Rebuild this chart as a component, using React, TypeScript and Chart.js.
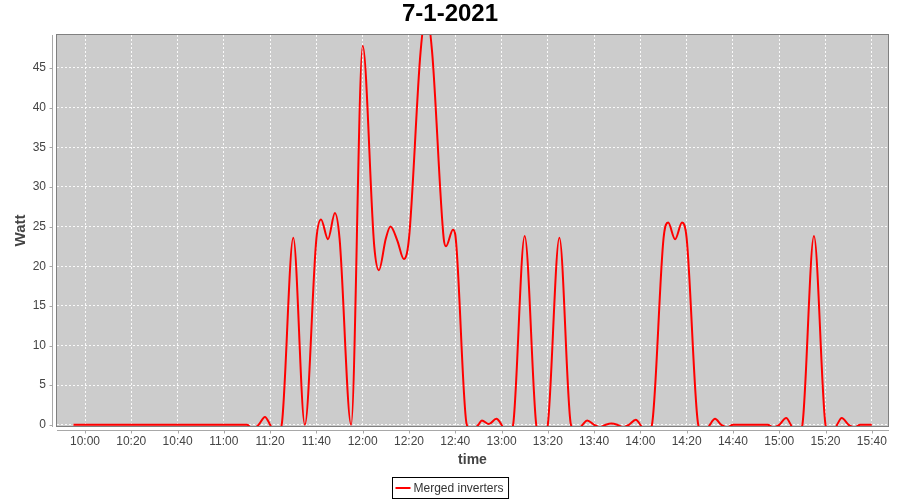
import React, { useEffect, useRef } from "react";
import { Chart, registerables } from "chart.js";

Chart.register(...registerables);

const TITLE = "7-1-2021";
const SERIES_LABEL = "Merged inverters";
const X_TITLE = "time";
const Y_TITLE = "Watt";

const xTickLabels = [
  "10:00", "10:20", "10:40", "11:00", "11:20", "11:40", "12:00", "12:20", "12:40",
  "13:00", "13:20", "13:40", "14:00", "14:20", "14:40", "15:00", "15:20", "15:40",
];
const yTickValues = [0, 5, 10, 15, 20, 25, 30, 35, 40, 45];

const times = [
  "9:55", "10:00", "10:05", "10:10", "10:15", "10:20", "10:25", "10:30", "10:35", "10:40",
  "10:45", "10:50", "10:55", "11:00", "11:05", "11:10", "11:12:30", "11:15", "11:17:45", "11:20",
  "11:22:30", "11:25", "11:30", "11:35", "11:40", "11:42", "11:45", "11:48", "11:50", "11:55",
  "12:00", "12:05", "12:07", "12:10", "12:12", "12:15", "12:17:45", "12:20", "12:25", "12:27:30",
  "12:30", "12:35", "12:36", "12:39", "12:40", "12:45", "12:47:30", "12:50", "12:51:30", "12:54:30",
  "12:57:45", "13:00", "13:02:30", "13:05", "13:10", "13:15", "13:17:30", "13:20", "13:25", "13:30",
  "13:32:30", "13:35", "13:37", "13:40", "13:42:30", "13:45", "13:47:30", "13:50", "13:52:30", "13:55",
  "13:58", "14:00", "14:02:30", "14:05", "14:10", "14:12", "14:15", "14:18", "14:20", "14:25",
  "14:27:30", "14:30", "14:32:15", "14:35", "14:37:30", "14:40", "14:45", "14:50", "14:55", "14:57:30",
  "15:00", "15:03", "15:05", "15:07:30", "15:10", "15:15", "15:20", "15:22:30", "15:25", "15:27",
  "15:30", "15:32:30", "15:35", "15:40",
];

const watts = [
  0, 0, 0, 0, 0, 0, 0, 0, 0, 0,
  0, 0, 0, 0, 0, 0, -0.5, 0, 1.0, 0,
  -1.5, 0, 23.6, 0, 23.5, 25.9, 23.4, 26.7, 23.5, 0,
  47.8, 22.5, 19.5, 23.5, 25.0, 23.2, 20.9, 23.5, 47, 52,
  47, 23.5, 22.5, 24.6, 24.0, 0, -0.6, 0, 0.55, 0.1,
  0.75, 0, -1.5, 0, 23.8, 0, -2, 0, 23.6, 0,
  -0.8, 0, 0.55, 0, -0.3, 0, 0.15, 0, -0.3, 0,
  0.65, 0, -1.2, 0, 23.5, 25.5, 23.4, 25.5, 23.5, 0,
  -1.2, 0, 0.75, 0, -0.3, 0, 0, 0, 0, -0.3,
  0, 0.85, 0, -1.5, 0, 23.8, 0, -1.5, 0, 0.85,
  0, -0.3, 0, 0,
];

const FONT = "'Liberation Sans', Arial, sans-serif";

const toMinutes = (s: string) => {
  const [h, m, sec] = s.split(":").map(Number);
  return h * 60 + m + (sec || 0) / 60;
};

const xTickValues = xTickLabels.map(toMinutes);

const decorPlugin = {
  id: "decor",
  beforeDraw(chart: any) {
    const { ctx, chartArea } = chart;
    const { left, top, right, bottom } = chartArea;
    ctx.save();
    ctx.fillStyle = "#ffffff";
    ctx.fillRect(0, 0, chart.width, chart.height);
    ctx.fillStyle = "#cccccc";
    ctx.fillRect(left, top, right - left, bottom - top);
    ctx.restore();
  },
  afterDraw(chart: any) {
    const { ctx, chartArea, scales } = chart;
    const L = Math.round(chartArea.left);
    const T = Math.round(chartArea.top);
    const R = Math.round(chartArea.right);
    const B = Math.round(chartArea.bottom);
    ctx.save();
    // plot outline
    ctx.strokeStyle = "#808080";
    ctx.lineWidth = 1;
    ctx.strokeRect(L - 0.5, T - 0.5, R - L + 1, B - T + 1);
    // offset axis lines
    ctx.strokeStyle = "#a8a8a8";
    ctx.beginPath();
    ctx.moveTo(L - 4.5, T);
    ctx.lineTo(L - 4.5, B + 1);
    ctx.moveTo(L, B + 4.5);
    ctx.lineTo(R + 1, B + 4.5);
    for (const t of scales.y.ticks) {
      const py = Math.round(scales.y.getPixelForValue(t.value)) + 0.5;
      ctx.moveTo(L - 4.5, py);
      ctx.lineTo(L - 7.5, py);
    }
    for (const t of scales.x.ticks) {
      const px = Math.round(scales.x.getPixelForValue(t.value)) + 0.5;
      ctx.moveTo(px, B + 4.5);
      ctx.lineTo(px, B + 7.5);
    }
    ctx.stroke();
    // legend
    const label = chart.data.datasets[0].label;
    ctx.font = `12px ${FONT}`;
    const tw = ctx.measureText(label).width;
    const boxW = tw + 26;
    const boxH = 21;
    const cx = chart.width / 2;
    const bx = Math.round(cx - boxW / 2) + 0.5;
    const by = 477.5;
    ctx.strokeStyle = "#000000";
    ctx.lineWidth = 1;
    ctx.strokeRect(bx, by, boxW, boxH);
    ctx.strokeStyle = "#ff0000";
    ctx.lineWidth = 2;
    ctx.beginPath();
    ctx.moveTo(bx + 3, by + 10.5);
    ctx.lineTo(bx + 18, by + 10.5);
    ctx.stroke();
    ctx.fillStyle = "#333333";
    ctx.textBaseline = "middle";
    ctx.textAlign = "left";
    ctx.fillText(label, bx + 21, by + 11);
    ctx.restore();
  },
};

export default function App() {
  const canvasRef = useRef<HTMLCanvasElement | null>(null);

  useEffect(() => {
    if (!canvasRef.current) return;
    Chart.defaults.font.family = FONT;
    const data = times.map((t, i) => ({ x: toMinutes(t), y: watts[i] }));
    const chart = new Chart(canvasRef.current, {
      type: "line",
      data: {
        datasets: [
          {
            label: SERIES_LABEL,
            data,
            borderColor: "#ff0000",
            backgroundColor: "#ff0000",
            borderWidth: 2,
            pointRadius: 0,
            cubicInterpolationMode: "monotone",
            fill: false,
            clip: 0,
          },
        ],
      },
      options: {
        animation: false,
        responsive: false,
        layout: { padding: { left: 12, right: 12, top: 0, bottom: 0 } },
        plugins: {
          legend: { display: false },
          tooltip: { enabled: false },
          title: {
            display: true,
            text: TITLE,
            color: "#000000",
            font: { size: 24, weight: "bold", family: FONT },
            padding: { top: 0, bottom: 6.2 },
          },
        },
        scales: {
          x: {
            type: "linear",
            min: 587.9,
            max: 947,
            afterBuildTicks: (s: any) => {
              s.ticks = xTickValues.map((v) => ({ value: v }));
            },
            afterFit: (s: any) => {
              s.height = 74;
            },
            ticks: {
              autoSkip: false,
              maxRotation: 0,
              color: "#444444",
              font: { size: 12 },
              padding: 8,
              callback: (_v: any, i: number) => xTickLabels[i],
            },
            grid: { color: "rgba(255,255,255,0.9)", lineWidth: 1, drawTicks: false },
            border: { display: false, dash: [2, 2] },
            title: {
              display: true,
              text: X_TITLE,
              color: "#444444",
              font: { size: 14, weight: "bold" },
              padding: { top: 0, bottom: 31.6 },
            },
          },
          y: {
            type: "linear",
            min: -0.15,
            max: 49.15,
            afterBuildTicks: (s: any) => {
              s.ticks = yTickValues.map((v) => ({ value: v }));
            },
            afterFit: (s: any) => {
              s.width = 45;
            },
            ticks: {
              color: "#444444",
              font: { size: 12 },
              padding: 11,
              callback: (v: any) => String(v),
            },
            grid: { color: "rgba(255,255,255,0.9)", lineWidth: 1, drawTicks: false },
            border: { display: false, dash: [2, 2] },
            title: {
              display: true,
              text: Y_TITLE,
              color: "#444444",
              font: { size: 15, weight: "bold" },
              padding: { top: 0, bottom: 0 },
            },
          },
        },
      },
      plugins: [decorPlugin],
    });
    return () => chart.destroy();
  }, []);

  return (
    <div style={{ position: "absolute", left: 0, top: 0, width: 900, height: 500 }}>
      <canvas ref={canvasRef} width={900} height={500} style={{ display: "block" }} />
    </div>
  );
}
